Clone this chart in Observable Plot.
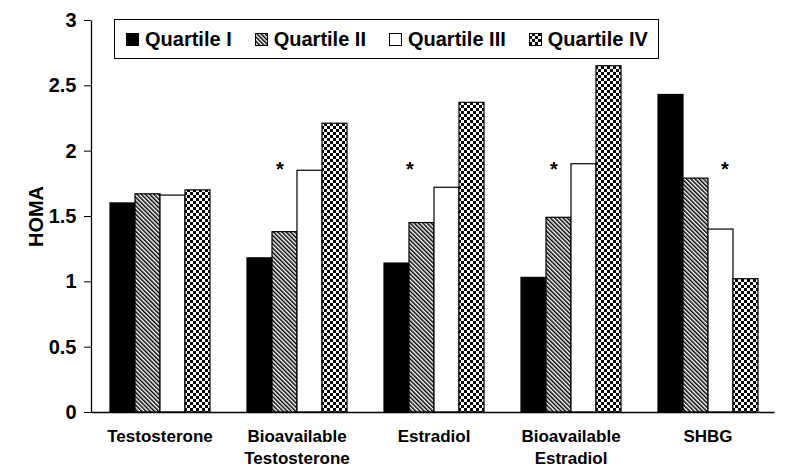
<!DOCTYPE html>
<html>
<head>
<meta charset="utf-8">
<script src="https://cdn.jsdelivr.net/npm/d3@7"></script>
<script src="https://cdn.jsdelivr.net/npm/@observablehq/plot@0.6"></script>
<style>
  html, body { margin: 0; padding: 0; background: #fff; }
  #wrap { position: relative; width: 785px; height: 468px; font-family: "Liberation Sans", Arial, sans-serif; }
  #legend { position: absolute; left: 114px; top: 19px; width: 532px; height: 38px; border: 1px solid #000; background: #fff;
            display: flex; align-items: center; box-sizing: content-box; padding-left: 11px; gap: 23px;
            font-weight: bold; font-size: 20px; color: #000; }
  .item { display: flex; align-items: center; gap: 6px; white-space: nowrap; }
  .item svg { display: block; }
</style>
</head>
<body>
<svg width="0" height="0" style="position:absolute">
  <defs>
    <pattern id="hatch" patternUnits="userSpaceOnUse" width="3" height="3" patternTransform="rotate(-45)">
      <rect width="3" height="3" fill="#fff"></rect>
      <rect width="1.5" height="3" fill="#000"></rect>
    </pattern>
    <pattern id="checker" patternUnits="userSpaceOnUse" width="6" height="6">
      <rect width="6" height="6" fill="#000"></rect>
      <rect x="0" y="0" width="3" height="3" fill="#fff"></rect>
      <rect x="3" y="3" width="3" height="3" fill="#fff"></rect>
    </pattern>
  </defs>
</svg>
<div id="wrap"><div id="legend"></div></div>
<script>
const groups = ["Testosterone", "Bioavailable Testosterone", "Estradiol", "Bioavailable Estradiol", "SHBG"];
const groupLabels = ["Testosterone", "Bioavailable\nTestosterone", "Estradiol", "Bioavailable\nEstradiol", "SHBG"];
const quartiles = ["Quartile I", "Quartile II", "Quartile III", "Quartile IV"];
const quartileI   = [1.60, 1.18, 1.14, 1.03, 2.43];
const quartileII  = [1.67, 1.38, 1.45, 1.49, 1.79];
const quartileIII = [1.66, 1.85, 1.72, 1.90, 1.40];
const quartileIV  = [1.70, 2.21, 2.37, 2.65, 1.02];
const yTicks = [0, 0.5, 1, 1.5, 2, 2.5, 3];
const yLabel = "HOMA";
const fills = ["#000", "url(#hatch)", "#fff", "url(#checker)"];
// significance markers (group, bar it sits over)
const starLevel = 1.86;
const stars = [
  {group: "Bioavailable Testosterone", quartile: "Quartile II"},
  {group: "Estradiol", quartile: "Quartile II"},
  {group: "Bioavailable Estradiol", quartile: "Quartile II"},
  {group: "SHBG", quartile: "Quartile III"}
];

const series = [quartileI, quartileII, quartileIII, quartileIV];
const data = [];
groups.forEach((g, gi) => quartiles.forEach((q, qi) => data.push({group: g, quartile: q, value: series[qi][gi]})));
const labelOf = new Map(groups.map((g, i) => [g, groupLabels[i]]));

const W = 785, H = 468, mL = 90, mR = 8, mT = 20, mB = 56;
const fw = W - mL - mR, fh = H - mT - mB;
const font = "'Liberation Sans', Arial, sans-serif";
const starMark = (filterFn, dx) => Plot.text(stars.filter(filterFn), {
  fx: "group", x: "quartile", y: () => starLevel, text: () => "*",
  fontSize: 20, fontWeight: "bold", dx, lineAnchor: "middle", fill: "#000"
});

const chart = Plot.plot({
  width: W, height: H,
  marginLeft: mL, marginRight: mR, marginTop: mT, marginBottom: mB,
  style: {fontFamily: font, background: "#fff", color: "#000"},
  fx: {domain: groups, padding: 0},
  x: {domain: quartiles, paddingInner: 0, paddingOuter: 0.7, axis: null},
  y: {domain: [0, 3], axis: null},
  color: {type: "ordinal", domain: quartiles, range: fills},
  marks: [
    Plot.barY(data, {fx: "group", x: "quartile", y: "value", fill: "quartile", stroke: "#000", strokeWidth: 1.2}),
    starMark(d => d.group === "Bioavailable Testosterone" || d.group === "Bioavailable Estradiol", -5),
    starMark(d => d.group === "Estradiol", -12),
    starMark(d => d.group === "SHBG", 4),
    // left + bottom sides of the frame only
    Plot.frame({facet: "super", stroke: "#000", strokeWidth: 1.3, strokeDasharray: `0,${fw + fh},${fw + fh}`}),
    Plot.axisY({ticks: yTicks, tickFormat: d => String(d), tickSize: 7, tickPadding: 8,
      fontSize: 20, fontWeight: "bold", label: null}),
    Plot.text([yLabel], {facet: "super", frameAnchor: "left", dx: -55, rotate: -90, text: d => d,
      textAnchor: "middle", lineAnchor: "middle", fontSize: 20, fontWeight: "bold", fill: "#000"}),
    Plot.axisFx({anchor: "bottom", tickSize: 0, tickPadding: 14, fontSize: 17, fontWeight: "bold",
      label: null, tickFormat: d => labelOf.get(d), lineHeight: 1.3})
  ]
});
document.getElementById("wrap").prepend(chart);

const legend = document.getElementById("legend");
quartiles.forEach((q, i) => {
  const item = document.createElement("div");
  item.className = "item";
  item.innerHTML = `<svg width="13" height="13"><rect x="0.5" y="0.5" width="12" height="12" fill="${fills[i]}" stroke="#000" stroke-width="1"></rect></svg><span>${q}</span>`;
  legend.appendChild(item);
});
</script>
</body>
</html>
